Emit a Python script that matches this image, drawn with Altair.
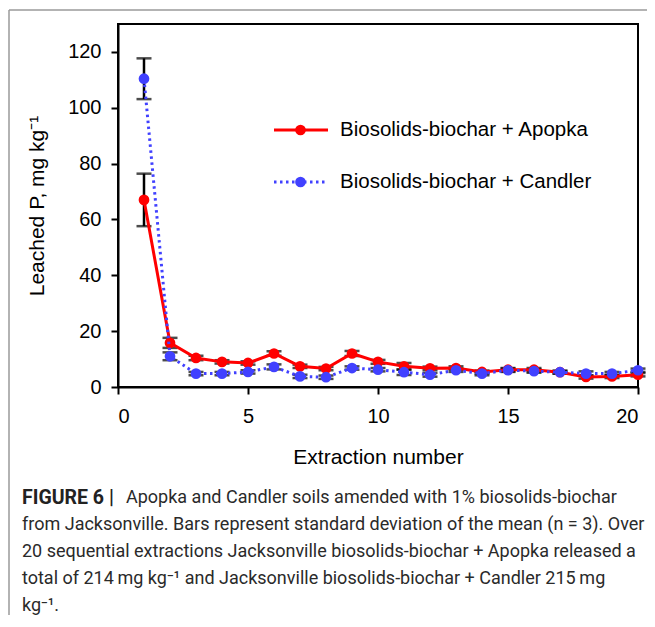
import altair as alt
import pandas as pd

# ---- data ----
extraction = list(range(1, 21))
apopka = [67.0, 15.8, 10.4, 9.0, 8.6, 12.0, 7.4, 6.6, 12.0, 9.0,
          7.4, 6.7, 6.8, 5.4, 6.2, 6.2, 5.3, 3.6, 3.8, 4.4]
apopka_sd = [9.4, 1.8, 0.8, 0.6, 0.6, 0.8, 0.6, 0.6, 0.9, 0.7,
             1.2, 0.6, 0.6, 0.5, 0.6, 0.6, 0.5, 0.6, 0.6, 0.6]
candler = [110.4, 11.0, 4.8, 4.8, 5.4, 7.2, 3.8, 3.5, 6.8, 6.2,
           5.3, 4.4, 6.0, 4.8, 6.0, 5.7, 5.3, 4.8, 4.8, 6.0]
candler_sd = [7.3, 1.4, 0.6, 0.6, 0.6, 0.9, 0.6, 0.6, 0.6, 0.6,
              1.0, 0.7, 0.6, 0.6, 0.6, 0.6, 0.5, 0.8, 0.6, 0.6]

series_names = ["Biosolids-biochar + Apopka", "Biosolids-biochar + Candler"]
x_ticks = [0, 5, 10, 15, 20]
y_ticks = [0, 20, 40, 60, 80, 100, 120]

caption_lines = [
    "Apopka and Candler soils amended with 1% biosolids-biochar",
    "from Jacksonville. Bars represent standard deviation of the mean (n = 3). Over",
    "20 sequential extractions Jacksonville biosolids-biochar + Apopka released a",
    "total of 214\u2009mg kg\u207b\u00b9 and Jacksonville biosolids-biochar + Candler 215\u2009mg",
    "kg\u207b\u00b9.",
]
caption_bold = "FIGURE 6 |"

RED = "#FF0000"
BLUE = "#4141FF"
FONT = "Liberation Sans"
CAP_FONT = "Roboto"

rows = []
for name, vals, sds in [(series_names[0], apopka, apopka_sd),
                        (series_names[1], candler, candler_sd)]:
    for x, v, s in zip(extraction, vals, sds):
        rows.append({"series": name, "x": x, "y": v, "lo": v - s, "hi": v + s})
df = pd.DataFrame(rows)

W, H = 520, 363
xs = alt.Scale(domain=[0, 20], nice=False, zero=False)
ys = alt.Scale(domain=[0, 130], nice=False)

base = alt.Chart(df)

X = alt.X("x:Q", scale=xs,
          axis=alt.Axis(values=x_ticks, title="Extraction number", format="d"))
Y = alt.Y("y:Q", scale=ys,
          axis=alt.Axis(values=y_ticks, title="Leached P, mg kg\u207b\u00b9"))

err = base.mark_rule(color="black", strokeWidth=2.5).encode(
    x=alt.X("x:Q", scale=xs), y=alt.Y("lo:Q", scale=ys), y2="hi:Q")
cap_hi = base.mark_tick(color="black", orient="horizontal", size=15, thickness=2.5).encode(
    x=alt.X("x:Q", scale=xs), y=alt.Y("hi:Q", scale=ys))
cap_lo = base.mark_tick(color="black", orient="horizontal", size=15, thickness=2.5).encode(
    x=alt.X("x:Q", scale=xs), y=alt.Y("lo:Q", scale=ys))

a = base.transform_filter(alt.datum.series == series_names[0])
c = base.transform_filter(alt.datum.series == series_names[1])

red_line = a.mark_line(color=RED, strokeWidth=3).encode(x=X, y=Y)
red_pts = a.mark_circle(color=RED, size=115, opacity=1).encode(x=X, y=Y)
blue_line = c.mark_line(color=BLUE, strokeWidth=3, strokeDash=[2.5, 3.5]).encode(x=X, y=Y)
blue_pts = c.mark_circle(color=BLUE, size=115, opacity=1).encode(x=X, y=Y)

# ---- manual legend (inside plot) ----
one = alt.Chart(pd.DataFrame({"k": [0]}))
leg = []
for i, (name, col, dash) in enumerate([(series_names[0], RED, None),
                                       (series_names[1], BLUE, [2.5, 3.5])]):
    yy = 106 + i * 52
    kw = dict(color=col, strokeWidth=3)
    if dash:
        kw["strokeDash"] = dash
    leg.append(one.mark_rule(**kw).encode(x=alt.value(156), x2=alt.value(210), y=alt.value(yy)))
    leg.append(one.mark_circle(color=col, size=115, opacity=1).encode(x=alt.value(182.5), y=alt.value(yy)))
    leg.append(one.mark_text(text=name, font=FONT, fontSize=20.5, align="left", baseline="middle",
                             color="black").encode(x=alt.value(222), y=alt.value(yy)))

# ---- caption ----
cap = []
cap.append(one.mark_text(text=caption_bold, font=CAP_FONT, fontSize=19.5, fontWeight="bold",
                         align="left", baseline="middle", color="#222222")
           .encode(x=alt.value(-96), y=alt.value(474)))
for i, line in enumerate(caption_lines):
    xx = 8 if i == 0 else -96
    cap.append(one.mark_text(text=line, font=CAP_FONT, fontSize=18, align="left",
                             baseline="middle", color="#2a2a2a")
               .encode(x=alt.value(xx), y=alt.value(474 + 27 * i)))

# ---- page frame lines ----
frame = [
    one.mark_rule(color="#9a9a9a", strokeWidth=1.5).encode(
        x=alt.value(-109), x2=alt.value(540), y=alt.value(-14)),
    one.mark_rule(color="#9a9a9a", strokeWidth=1.5).encode(
        x=alt.value(-109), y=alt.value(-14), y2=alt.value(610)),
]

chart = alt.layer(
    *frame, err, cap_hi, cap_lo, red_line, red_pts, blue_line, blue_pts, *leg, *cap
).properties(
    width=W, height=H,
    autosize=alt.AutoSizeParams(type="none"),
    padding={"left": 110, "top": 16, "right": 9, "bottom": 228},
).configure_view(
    stroke="black", strokeWidth=2
).configure_axis(
    grid=False, domainColor="black", domainWidth=2, tickColor="black", tickWidth=2,
    tickSize=7, labelColor="black", labelFont=FONT, labelFontSize=20,
    titleFont=FONT, titleFontSize=21, titleFontWeight="normal", titleColor="black",
    labelPadding=12,
).configure_axisX(
    titlePadding=20
).configure_axisY(
    titlePadding=20, labelPadding=10
)

chart.save("out.html", embed_options={"renderer": "svg", "actions": False})
